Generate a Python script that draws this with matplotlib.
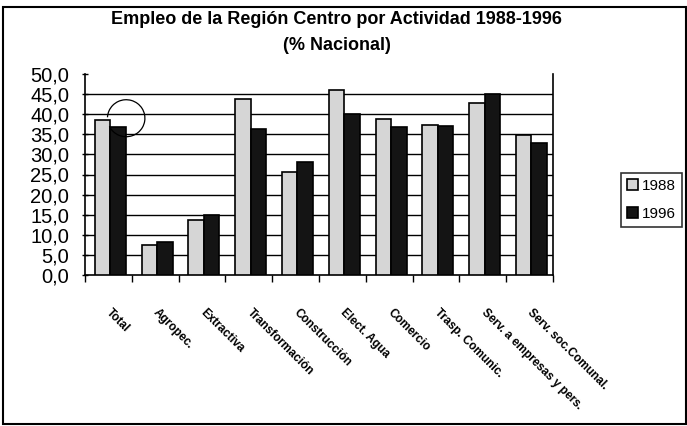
import numpy as np
import matplotlib.pyplot as plt
from matplotlib.patches import Rectangle, Arc

plt.rcParams['font.family'] = ['Liberation Sans', 'DejaVu Sans']

actividades = ["Total", "Agropec.", "Extractiva", "Transformación", "Construcción",
               "Elect. Agua", "Comercio", "Trasp. Comunic.", "Serv. a empresas y pers.",
               "Serv. soc.Comunal."]
v1988 = [38.5, 7.5, 13.8, 43.7, 25.7, 46.0, 38.7, 37.3, 42.9, 34.8]
v1996 = [36.8, 8.3, 14.9, 36.2, 28.2, 40.1, 36.9, 37.1, 45.0, 32.8]
yticks = np.arange(0, 51, 5)

fig = plt.figure(figsize=(6.87, 4.26), dpi=100)
ax = fig.add_axes([85/687, 1-275/426, (553-85)/687, (275-74)/426])

x = np.arange(len(actividades))
w = 0.33
ax.bar(x - w/2 + 0.04, v1988, w, color='#d6d6d6', edgecolor='black', linewidth=1.2, label='1988', zorder=3)
ax.bar(x + w/2 + 0.04, v1996, w, color='#141414', edgecolor='black', linewidth=1.2, label='1996', zorder=3)

ax.set_xlim(-0.5, len(actividades) - 0.5)
ax.set_ylim(0, 50)
ax.set_yticks(yticks)
ax.set_yticklabels([f"{v:.1f}".replace('.', ',') for v in yticks], fontsize=14.5)
for v in yticks[1:-1]:
    ax.axhline(v, color='black', lw=1, zorder=1)

# ticks between categories, labels at centers
ax.set_xticks(np.arange(-0.5, len(actividades), 1))
ax.set_xticklabels([])
ax.set_xticks(x, minor=True)
ax.set_xticklabels(actividades, minor=True, rotation=-45, ha='left', va='center',
                   rotation_mode='anchor', fontsize=8.5, fontweight='bold')
ax.tick_params(axis='x', which='minor', length=0, pad=26)
ax.tick_params(axis='x', which='major', length=5, direction='out', width=1)
ax.tick_params(axis='y', length=5, direction='inout', width=1, pad=9)
ax.spines['top'].set_visible(False)
for s in ['left', 'right', 'bottom']:
    ax.spines[s].set_linewidth(1.2)

# hand-drawn circle near Total
ax.add_patch(Arc((0.38, 39), 0.8, 9.2, theta1=-100, theta2=150, color='black', lw=0.9, zorder=4))

fig.text(0.49, 1-19/426, "Empleo de la Región Centro por Actividad 1988-1996",
         ha='center', va='center', fontsize=13, fontweight='bold')
fig.text(0.49, 1-45/426, "(% Nacional)", ha='center', va='center', fontsize=13, fontweight='bold')

leg = fig.legend(loc='center left', bbox_to_anchor=(621/687, 1-200/426), fontsize=11,
                 frameon=True, fancybox=False, edgecolor='black', handlelength=0.7,
                 handleheight=0.7, handletextpad=0.25, borderpad=0.4, borderaxespad=0,
                 labelspacing=0.9)
leg.get_frame().set_linewidth(1.2)

fig.add_artist(Rectangle((3/687, 2/426), 683/687, 417/426, transform=fig.transFigure,
                         fill=False, edgecolor='black', lw=1.5))

fig.savefig('out.png', dpi=100)
